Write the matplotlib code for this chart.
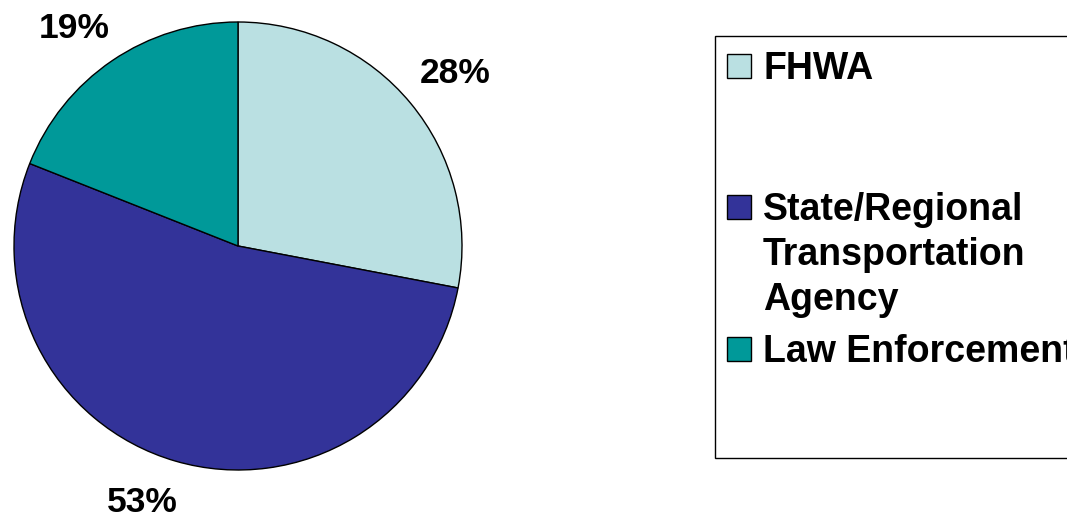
import numpy as np
import matplotlib
matplotlib.use('Agg')
import matplotlib.pyplot as plt
from matplotlib.patches import Rectangle

# data
labels = ['FHWA', 'State/Regional\nTransportation\nAgency', 'Law Enforcement']
shares = [28, 53, 19]
colors = ['#BAE0E2', '#333399', '#009999']

# where Excel put the percentage labels (radius factor, angle nudge in deg)
lab_dist = [1.246, 1.209, 1.227]
lab_nudge = [-0.6, -4.4, 2.4]

plt.rcParams['font.family'] = ['Liberation Sans', 'DejaVu Sans']
plt.rcParams['font.weight'] = 'bold'

W, H = 1067, 515
fig = plt.figure(figsize=(W / 100, H / 100), dpi=100)

# pie axes: circle centre (238,246) px, radius 224 px
cx, cy, r = 238, 246, 224
ax = fig.add_axes([(cx - r) / W, (H - cy - r) / H, 2 * r / W, 2 * r / H])
wedges, texts = ax.pie(
    shares, colors=colors, startangle=90, counterclock=False,
    wedgeprops=dict(edgecolor='black', linewidth=1.0))
ax.set_xlim(-1, 1)
ax.set_ylim(-1, 1)
ax.set_aspect('equal')
ax.axis('off')

half_digit = 12.5 / r  # half the digit height, in radius units
for w, val, d, nud in zip(wedges, shares, lab_dist, lab_nudge):
    ang = np.deg2rad((w.theta1 + w.theta2) / 2 + nud)
    x = d * np.cos(ang)
    y = d * np.sin(ang) - half_digit
    ax.text(x, y, '%d%%' % val, ha='center', va='baseline', fontsize=25.5,
            fontweight='bold', clip_on=False)

# legend drawn by hand (Excel style box, cut at right edge)
def fx(px):
    return px / W

def fy(py):
    return (H - py) / H

box = Rectangle((fx(715), fy(458)), fx(1080) - fx(715), fy(36) - fy(458),
                transform=fig.transFigure, facecolor='white', edgecolor='black',
                linewidth=1.0, clip_on=False)
fig.patches.append(box)

row_y = [65.5, 206.5, 348.5]
line_px = 45
for lab, col, yy in zip(labels, colors, row_y):
    sq = Rectangle((fx(727), fy(yy + 12)), fx(751) - fx(727), fy(yy - 12) - fy(yy + 12),
                   transform=fig.transFigure, facecolor=col, edgecolor='black',
                   linewidth=1.0)
    fig.patches.append(sq)
    # baseline alignment goes by the last line, so shift for wrapped labels
    nextra = lab.count('\n')
    fig.text(fx(763), fy(yy + 13.5 + nextra * line_px), lab, ha='left',
             va='baseline', fontsize=27, fontweight='bold', linespacing=1.33)

fig.savefig('out.png', dpi=100)
